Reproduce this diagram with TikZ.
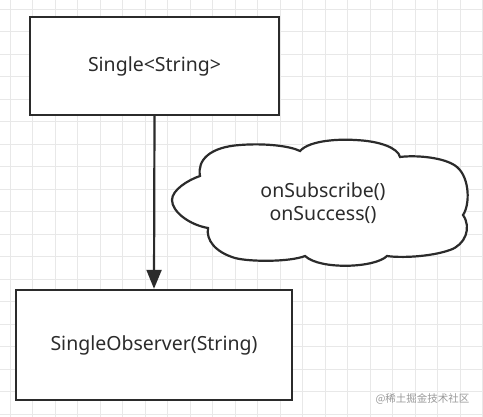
\documentclass[tikz,border=0pt]{standalone}
\usepackage{fontspec}
\setmainfont{Noto Sans}
\newfontfamily\cjk{Noto Sans CJK SC}
\usetikzlibrary{arrows.meta}
\definecolor{gridc}{HTML}{E8E8E8}
\definecolor{linec}{HTML}{2B2B2B}
\begin{document}
\begin{tikzpicture}[x=1pt,y=-1pt,
  boxstyle/.style={draw=linec,line width=2.4pt,fill=white,inner sep=0pt},
  lbl/.style={font=\fontsize{19.5}{24}\selectfont,text=linec,align=center},
  conn/.style={draw=linec,line width=2.2pt,-{Triangle[length=19pt,width=15pt]}}]
\useasboundingbox (0,0) rectangle (483,417);
\fill[white] (0,0) rectangle (483,417);
% grid
\foreach \i in {0,...,21} {
  \draw[gridc,line width=0.8pt] (10+22.5*\i,0) -- (10+22.5*\i,417);
}
\foreach \j in {0,...,18} {
  \draw[gridc,line width=0.8pt] (0,9+22.5*\j) -- (483,9+22.5*\j);
}
% boxes
\node[boxstyle,minimum width=249pt,minimum height=98pt] (top) at (154.5,66) {};
\node[lbl] (toptext) at (top.center) {Single<String>};
\node[boxstyle,minimum width=276pt,minimum height=110pt] (bot) at (154,345) {};
\node[lbl] (bottext) at (bot.center) {SingleObserver(String)};
% arrow
\draw[conn] (top.south) -- (bot.north);
% cloud
\draw[linec,line width=2.2pt,fill=white]
  (208,228) .. controls (190,225) and (172,212) .. (172,200)
  .. controls (172,190) and (188,180) .. (200,176)
  .. controls (197,160) and (210,147) .. (240,145)
  .. controls (265,143) and (290,146) .. (300,151)
  .. controls (310,140) and (340,139) .. (355,140)
  .. controls (380,141) and (398,148) .. (400,157)
  .. controls (415,155) and (445,157) .. (457,167)
  .. controls (470,178) and (470,205) .. (463,215)
  .. controls (472,228) and (465,245) .. (450,250)
  .. controls (430,257) and (400,258) .. (387,256)
  .. controls (375,268) and (320,270) .. (305,256)
  .. controls (290,262) and (250,262) .. (235,258)
  .. controls (215,252) and (206,240) .. (208,228) -- cycle;
\node[lbl,font=\fontsize{19.5}{23}\selectfont] (cloudtext) at (323,203) {onSubscribe()\\onSuccess()};
% watermark
\node[text=black!40,font=\cjk\fontsize{10.5}{12}\selectfont,anchor=east] (wm) at (473,399) {@稀土掘金技术社区};
\end{tikzpicture}
\end{document}
